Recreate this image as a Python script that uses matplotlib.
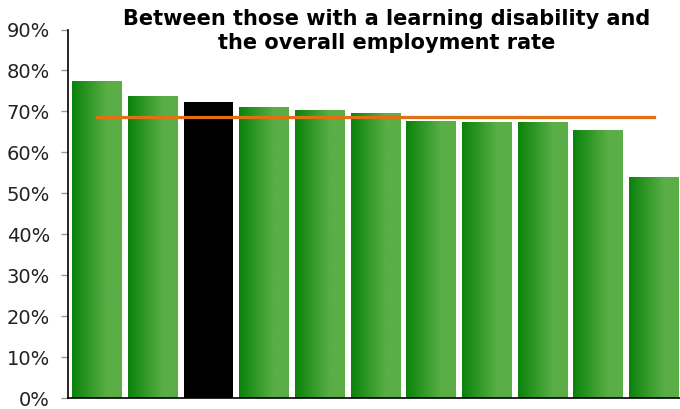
import numpy as np
import matplotlib
matplotlib.use("Agg")
import matplotlib.pyplot as plt
from matplotlib.colors import to_rgb

# Data
categories = ["A", "B", "C", "D", "E", "F", "G", "H", "I", "J", "K"]
values = [77.4, 73.7, 72.2, 71.0, 70.3, 69.5, 67.7, 67.4, 67.4, 65.5, 54.0]
highlight = [False, False, True, False, False, False, False, False, False, False, False]
overall_rate = [68.7] * len(categories)
yticks = [0, 10, 20, 30, 40, 50, 60, 70, 80, 90]
title = "Between those with a learning disability and\nthe overall employment rate"

fig = plt.figure(figsize=(6.8, 4.09), dpi=100)
ax = fig.add_axes([68/680, 11/409, 612/680, (398-29.5)/409])

x = np.arange(len(categories))
width = 0.89

# gradient
c0 = np.array(to_rgb("#0a830a"))
c1 = np.array(to_rgb("#5aae46"))
n = 100
t = np.clip(np.linspace(0, 1, n) / 0.7, 0, 1)
grad = (c0[None, :] * (1 - t[:, None]) + c1[None, :] * t[:, None])[None, :, :]

bars = ax.bar(x, values, width=width, color="none", edgecolor="none", zorder=2)
for b, v, h in zip(bars, values, highlight):
    if h:
        b.set_facecolor("black")
    else:
        x0 = b.get_x()
        im = ax.imshow(grad, extent=[x0, x0 + b.get_width(), 0, v], aspect="auto",
                       zorder=2, interpolation="bilinear")
        im.set_clip_path(b)

ax.plot(x, overall_rate, color="#e07014", lw=2.3, zorder=3)

ax.set_xlim(-0.52, 10.47)
ax.set_ylim(0, 90)
ax.set_yticks(yticks)
ax.set_yticklabels([f"{v}%" for v in yticks], fontsize=14, color="#222222")
ax.set_xticks([])
for s in ["top", "right"]:
    ax.spines[s].set_visible(False)
ax.spines["left"].set_color("black")
ax.spines["bottom"].set_color("black")
ax.spines["left"].set_linewidth(1.2)
ax.spines["bottom"].set_linewidth(1.2)
ax.tick_params(axis="y", length=5, width=1, color="#999999", pad=8)

fig.text(387/680, 1 - 9/409, title, ha="center", va="top", fontsize=15,
         fontweight="bold", linespacing=1.25)

fig.savefig("out.png", dpi=100)
